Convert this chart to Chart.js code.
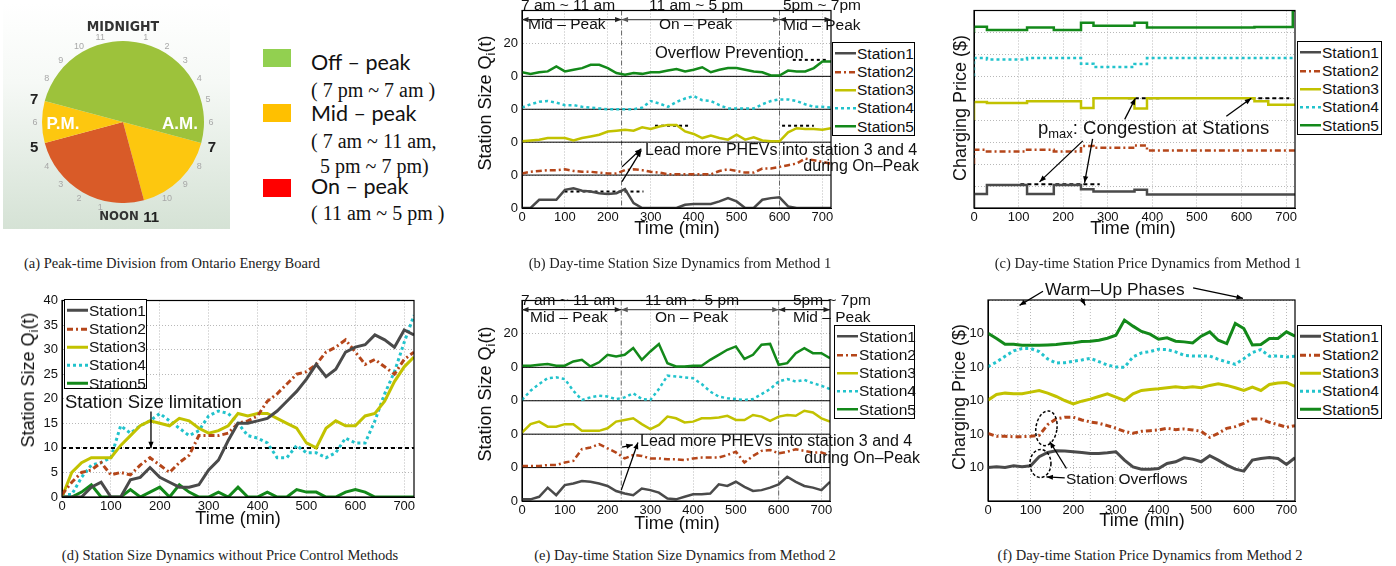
<!DOCTYPE html>
<html>
<head>
<meta charset="utf-8">
<title>PHEV charging station dynamics</title>
<script src="https://cdn.jsdelivr.net/npm/chart.js@4.4.1/dist/chart.umd.min.js"></script>
<style>
  body { margin: 0; background: #fff; }
  #fig { position: relative; width: 1396px; height: 566px; overflow: hidden; font-family: "Liberation Sans", Arial, sans-serif; color: #111; }
  #fig canvas { position: absolute; }
  .t { position: absolute; white-space: nowrap; line-height: 1; transform: translateY(-50%); }
  .c { position: absolute; white-space: nowrap; line-height: 1; transform: translate(-50%, -50%); }
  .yl { position: absolute; white-space: nowrap; line-height: 1; font-size: 18px; transform: translate(-50%, -50%) rotate(-90deg); }
  .xl { position: absolute; white-space: nowrap; line-height: 1; font-size: 18px; transform: translate(-50%, -50%); }
  .cap { position: absolute; white-space: nowrap; line-height: 1; transform: translate(-50%, -50%); font-family: "Liberation Serif", "Times New Roman", serif; font-size: 14.5px; color: #222; }
  .leg { position: absolute; border: 1.3px solid #000; background: #fff; box-sizing: border-box; }
  .leg .row { position: absolute; left: 2px; font-size: 15.5px; line-height: 1; white-space: nowrap; transform: translateY(-50%); display: flex; align-items: center; }
  .leg svg { margin-right: 1px; }
  sub { font-size: 70%; vertical-align: -0.35em; line-height: 0; }
  .sq { position: absolute; width: 28px; height: 18px; }
  .lgA { position: absolute; white-space: nowrap; line-height: 1; transform: translateY(-50%); font-family: Lato, "Noto Sans", sans-serif; font-size: 21.5px; }
  .lgS { position: absolute; white-space: nowrap; line-height: 1; transform: translateY(-50%); font-family: "Liberation Serif", serif; font-size: 20px; }
  .clk { position: absolute; white-space: nowrap; line-height: 1; transform: translate(-50%, -50%); }
</style>
</head>
<body>
<div id="fig">
  <!-- (a) peak-time clock -->
  <div style="position:absolute;left:3px;top:3px;width:227px;height:226px;background:linear-gradient(#ffffff 0%,#f6f9f6 35%,#d5e2d5 100%);"></div>
  <canvas id="cA" width="162" height="162" style="left:42px;top:41px"></canvas>
  <div id="clock"></div>
  <div class="c" style="left:123px;top:26px;font:bold 14px 'Liberation Sans Narrow','DejaVu Sans Condensed',sans-serif;color:#333">MIDNIGHT</div>
  <div class="c" style="left:119px;top:215px;font:bold 13px 'Liberation Sans Narrow','DejaVu Sans Condensed',sans-serif;color:#333">NOON</div>
  <div class="c" style="left:63px;top:124px;font:bold 17px 'Liberation Sans',sans-serif;color:#fff">P.M.</div>
  <div class="c" style="left:180px;top:124px;font:bold 17px 'Liberation Sans',sans-serif;color:#fff">A.M.</div>

  <div class="sq" style="left:263px;top:49px;background:#92d050"></div>
  <div class="sq" style="left:263px;top:104px;background:#ffc000"></div>
  <div class="sq" style="left:263px;top:179px;background:#ff0000"></div>
  <div class="lgA" style="left:311px;top:63px">Off – peak</div>
  <div class="lgS" style="left:311px;top:90px">( 7 pm ~ 7 am )</div>
  <div class="lgA" style="left:311px;top:114px">Mid – peak</div>
  <div class="lgS" style="left:311px;top:141px">( 7 am ~ 11 am,</div>
  <div class="lgS" style="left:320px;top:166px">5 pm ~ 7 pm)</div>
  <div class="lgA" style="left:311px;top:187px">On – peak</div>
  <div class="lgS" style="left:311px;top:213px">( 11 am ~ 5 pm )</div>

  <!-- chart canvases -->
  <canvas id="cB" width="360" height="230" style="left:480px;top:0px"></canvas>
  <canvas id="cC" width="375" height="230" style="left:930px;top:0px"></canvas>
  <canvas id="cD" width="404" height="230" style="left:20px;top:290px"></canvas>
  <canvas id="cE" width="360" height="235" style="left:480px;top:290px"></canvas>
  <canvas id="cF" width="365" height="245" style="left:940px;top:280px"></canvas>

  <!-- axis titles -->
  <div class="yl" style="left:485px;top:103px">Station Size Q<sub>i</sub>(t)</div>
  <div class="yl" style="left:960px;top:108px">Charging Price ($)</div>
  <div class="yl" style="left:28px;top:380px">Station Size Q<sub>i</sub>(t)</div>
  <div class="yl" style="left:485px;top:394px">Station Size Q<sub>i</sub>(t)</div>
  <div class="yl" style="left:959px;top:397px">Charging Price ($)</div>
  <div class="xl" style="left:677px;top:228px">Time (min)</div>
  <div class="xl" style="left:1133px;top:228px">Time (min)</div>
  <div class="xl" style="left:238px;top:518px">Time (min)</div>
  <div class="xl" style="left:677px;top:523px">Time (min)</div>
  <div class="xl" style="left:1142px;top:520px">Time (min)</div>

  <!-- annotations (b) -->
  <div class="t" style="left:521px;top:5px;font-size:15.5px">7 am ~ 11 am</div>
  <div class="t" style="left:528px;top:24px;font-size:15.5px">Mid – Peak</div>
  <div class="t" style="left:649px;top:5px;font-size:15.5px">11 am ~ 5 pm</div>
  <div class="t" style="left:659px;top:24px;font-size:15.5px">On – Peak</div>
  <div class="t" style="left:783px;top:5px;font-size:15.5px">5pm ~ 7pm</div>
  <div class="t" style="left:783px;top:25px;font-size:15.5px">Mid – Peak</div>
  <div class="t" style="left:655px;top:52px;font-size:16.5px">Overflow Prevention</div>
  <div class="t" style="left:645px;top:150px;font-size:16px">Lead more PHEVs into station 3 and 4</div>
  <div class="t" style="right:477px;top:166px;font-size:16px">during On–Peak</div>
  <!-- annotations (c) -->
  <div class="t" style="left:1038px;top:128px;font-size:18.5px">p<sub>max</sub>: Congestion at Stations</div>
  <!-- annotations (d) -->
  <div class="t" style="left:65px;top:402px;font-size:18.5px">Station Size limitation</div>
  <!-- annotations (e) -->
  <div class="t" style="left:521px;top:300px;font-size:15.5px">7 am ~ 11 am</div>
  <div class="t" style="left:530px;top:317px;font-size:15.5px">Mid – Peak</div>
  <div class="t" style="left:645px;top:300px;font-size:15.5px">11 am ~ 5 pm</div>
  <div class="t" style="left:655px;top:317px;font-size:15.5px">On – Peak</div>
  <div class="t" style="left:793px;top:300px;font-size:15.5px">5pm ~ 7pm</div>
  <div class="t" style="left:793px;top:317px;font-size:15.5px">Mid – Peak</div>
  <div class="t" style="left:640px;top:441px;font-size:16px">Lead more PHEVs into station 3 and 4</div>
  <div class="t" style="right:476px;top:458px;font-size:16px">during On–Peak</div>
  <!-- annotations (f) -->
  <div class="t" style="left:1045px;top:290px;font-size:17.3px">Warm–Up Phases</div>
  <div class="t" style="left:1066px;top:479px;font-size:15.5px">Station Overflows</div>

  <!-- captions -->
  <div class="cap" style="left:172px;top:263px">(a) Peak-time Division from Ontario Energy Board</div>
  <div class="cap" style="left:680px;top:263px">(b) Day-time Station Size Dynamics from Method 1</div>
  <div class="cap" style="left:1148px;top:263px">(c) Day-time Station Price Dynamics from Method 1</div>
  <div class="cap" style="left:230px;top:555px">(d) Station Size Dynamics without Price Control Methods</div>
  <div class="cap" style="left:685px;top:555px">(e) Day-time Station Size Dynamics from Method 2</div>
  <div class="cap" style="left:1150px;top:555px">(f) Day-time Station Price Dynamics from Method 2</div>
</div>

<script>
// ---- data ----
// (a) peak periods, clockwise from 7 am, in hours
const peakNames = ['Mid-peak (7-11 am)', 'On-peak', 'Mid-peak (5-7 pm)', 'Off-peak'];
const peakHours = [4, 6, 2, 12];

// time axis, minutes after 7 am
const minutes = [0,20,40,60,80,100,120,140,160,180,200,220,240,260,280,300,320,340,360,
                 380,400,420,440,460,480,500,520,540,560,580,600,620,640,660,680,700,720];

const stationNames = ['Station1', 'Station2', 'Station3', 'Station4', 'Station5'];

// (b) station size, method 1 (each station drawn in its own 20-unit band)
const sizeM1_s1 = [0,0,5,5,5,11,12,10.5,10,9, 8.5,9,11.5,3,0,0,0,0,0,2, 2.5,2.5,2.5,4,6,4,0,0,5,6, 6.5,1,0,0,0,0,0];
const sizeM1_s2 = [1,2,2.5,3,3,3.5,2.5,2,2,1.5, 1,1,3,3.5,3,2,1.5,0.5,0.5,0.5, 0.5,0.5,0.5,2.5,3.5,2.5,1.5,1.5,4,4, 5,6,7,10,9,8,7];
const sizeM1_s3 = [0.5,1,1.5,2.5,2.5,2.5,1,2.5,3.5,4.5, 6.5,7,7.5,7,9,8,9.5,10.5,10.5,6.5, 5,2.5,4,2.5,1.5,4.5,1.5,3,1,0.5, 0.5,6,8.5,8,8,7.5,8.5];
const sizeM1_s4 = [1,3,4.5,5,4,2.5,2.5,1.5,1,0.5, 0,0,0,0,1,5,3.5,1.5,4.5,6.5, 8,5.5,5,2.5,0.5,0.5,0.5,0.5,3,5, 6,6,5,3,1.5,1.5,1];
const sizeM1_s5 = [2.5,1.5,2.5,3,6,3,4,5,7,7, 5,2,1,2,1.5,2.5,2.5,3.5,4.5,3, 4,5.5,2.5,4,5,5,4,3,2.5,0.5, 0.5,3.5,3,3,5,9,9];
const bandOffsets = [0, 20, 40, 60, 80];
const sizeTickLabels = ['0', '0', '0', '0', '0', '20', ''];
const stationLimit = 10;
const limitB_start = [99, 310, 606, 631];
const limitB_end = [283, 388, 680, 714];
const limitB_station = [0, 2, 2, 4];

// (c) charging price, method 1 (piecewise constant)
const priceM1_times = [0, 29, 119, 179, 240, 268, 360, 388, 629, 660, 715, 720];
const priceM1_s1 = [0, 0.64, 1.05, 0.64, 1.05, 0.85, 0.75, 0.83, 0.62, 0.62, 0.62, 0.62];
const priceM1_s2 = [2.0, 2.66, 2.57, 2.66, 2.57, 2.82, 2.74, 2.85, 2.62, 2.62, 2.62, 2.62];
const priceM1_s3 = [4.0, 4.83, 4.79, 4.86, 4.86, 4.56, 5.0, 4.53, 5.0, 4.86, 4.7, 4.7];
const priceM1_s4 = [6.0, 6.83, 6.77, 6.83, 6.83, 6.57, 6.43, 6.56, 6.83, 6.83, 6.83, 6.83];
const priceM1_s5 = [8.0, 8.26, 8.11, 8.23, 8.11, 8.44, 8.3, 8.44, 8.22, 8.25, 8.25, 9.0];
const pmaxC_start = [104, 345, 622];
const pmaxC_end = [282, 416, 707];
const pmaxC_level = [1.08, 5.0, 5.0];

// (d) station size, no price control
const sizeNo_s1 = [0,0,0,2,3,0,0,3.5,4,6, 4,3,2,2,2.5,5.5,7.5,11.5,15,15, 15.5,16,17.5,19.5,21.5,24,27,24.5,26,29.5, 30.5,31,33,32,30.5,34,33];
const sizeNo_s2 = [0.5,3,5,5.5,7,4.5,5,4.5,6.5,8, 6.5,5,7,8.5,12.5,12.5,12.5,13,15,15.5, 16.5,19.5,21,23,25,25.5,27,29.5,30.5,32, 29.5,27,28,26.5,25,28,29.5];
const sizeNo_s3 = [0,5,7,8,8,8,10.5,12.5,14.5,15.5, 15,14.5,16,15.5,14,13,13.5,14.5,17,16.5, 17,17,16,15,14,11,10,14,15.5,14.5, 14.5,16.5,17,19.5,23.5,26.5,28.5];
const sizeNo_s4 = [0.5,0.5,4,6.5,7,8,14.5,13,14.5,15.5, 17,15.5,14,12.5,13.5,16.5,17.5,17,15,12.5, 12,11,8,8,10.5,9,9,8,9,12, 11,11,15.5,21,25.5,31.5,37];
const sizeNo_s5 = [0,0,1,2.5,0,0,0,1.5,0,1, 2,0,2.5,1,0,0,1,0,2,0, 0,1,0,0,1.5,1,1,0,0,1, 1.5,1,0,0,0,0,0];

// (e) station size, method 2
const sizeM2_s1 = [1,1,2.5,8,3.5,9.5,10.5,12,11.5,10.5, 9,6,4.5,3.5,7.5,6.5,5,1.5,1,2.5, 4,4,4.5,10,9,11.5,8.5,6,6.5,8, 10,14.5,11.5,9,8,6.5,11.5];
const sizeM2_s2 = [1,1,1,1.5,1.5,3,4,11,12,14, 11.5,9,5.5,7.5,7,5.5,5.5,5,5,4.5, 5.5,6,6,6,7.5,9.5,3,7,10,10.5, 8.5,9.5,11,10,9,9,7.5];
const sizeM2_s3 = [1,6,7.5,4.5,4.5,6,6,2,2,2, 3.5,7.5,8.5,9.5,6,3,5.5,10.5,9.5,7, 7.5,9.5,9.5,10,11,8.5,8.5,11.5,10.5,8, 10.5,11.5,11,14,13,9.5,7.5];
const sizeM2_s4 = [0.5,6,10,13.5,14,13,6,0.5,2,3, 2.5,1,2,4.5,1,0.5,7,15,14.5,14, 13.5,10,5.5,2.5,1.5,1,0.5,1,4,7, 11.5,13,11.5,12.5,10.5,9,7];
const sizeM2_s5 = [1,1,1.5,2,1,1,3.5,4.5,0.5,3, 7.5,6.5,7.5,11.5,4.5,9.5,14,2.5,0.5,0.5, 1,1,4.5,7.5,10.5,12.5,5,7.5,13.5,14, 1.5,2.5,8.5,11.5,8.5,8.5,5.5];

// (f) charging price, method 2
const priceM2_s1 = [1.0,1.02,1.0,1.05,1.02,1.05,1.32,1.45,1.5,1.49, 1.47,1.45,1.42,1.42,1.44,1.47,1.22,1.02,0.95,0.95, 0.97,1.12,1.17,1.29,1.25,1.17,1.35,1.22,1.07,0.95, 0.89,1.22,1.27,1.3,1.27,1.09,1.29];
const priceM2_s2 = [2.02,1.93,1.93,1.92,1.92,1.93,1.96,2.28,2.45,2.5, 2.5,2.42,2.36,2.32,2.25,2.17,2.08,2.02,2.08,2.1, 2.12,2.17,2.13,2.15,2.12,2.08,1.9,2.02,2.17,2.22, 2.32,2.45,2.45,2.35,2.28,2.2,2.25];
const priceM2_s3 = [3.01,3.18,3.22,3.2,3.2,3.25,3.3,3.22,3.12,3.0, 2.9,2.98,3.04,3.12,3.2,3.1,3.0,3.2,3.3,3.33, 3.35,3.38,3.41,3.38,3.41,3.38,3.45,3.5,3.45,3.38, 3.3,3.4,3.3,3.48,3.52,3.54,3.42];
const priceM2_s4 = [4.01,4.15,4.32,4.48,4.55,4.55,4.46,4.24,4.12,4.13, 4.17,4.21,4.26,4.16,4.06,4.0,3.99,4.3,4.42,4.46, 4.53,4.52,4.45,4.35,4.33,4.33,4.33,4.23,4.15,4.08, 4.25,4.43,4.52,4.32,4.33,4.3,4.32];
const priceM2_s5 = [5.01,4.85,4.68,4.68,4.65,4.65,4.65,4.66,4.67,4.7, 4.72,4.76,4.77,4.8,4.86,4.95,5.4,5.22,5.06,4.98, 4.83,4.87,4.77,4.75,4.72,4.92,5.05,4.8,4.7,5.3, 5.15,4.66,4.67,4.85,4.85,5.05,4.92];
const priceTickLabels = ['', '10', '10', '10', '10', '10', ''];

// ---- styles ----
const stationColors = ['#4a4a4a', '#b5461a', '#c2c200', '#22c3cc', '#13891a'];
const stationDash = [[], [6, 3, 2, 3], [], [3, 3], []];
const peakColors = ['#fdc70f', '#d95b28', '#fdc70f', '#9dc23b'];
const tickFont = { family: 'Liberation Sans, Arial, sans-serif', size: 13, lineHeight: 1 };

Chart.defaults.font.family = 'Liberation Sans, Arial, sans-serif';

// (a) the pie clock
new Chart(document.getElementById('cA'), {
  type: 'pie',
  data: { labels: peakNames, datasets: [{ data: peakHours, backgroundColor: peakColors, borderWidth: 0 }] },
  options: {
    responsive: false, animation: false, events: [],
    rotation: 105,
    plugins: { legend: { display: false }, tooltip: { enabled: false } }
  }
});

// clock numbers round the pie
(function () {
  const box = document.getElementById('clock');
  const cx = 123, cy = 122;
  const small = [1, 2, 3, 4, 5, 6, 8, 9, 10, 13, 14, 15, 16, 18, 20, 21, 22, 23];
  const bold = [7, 11, 17, 19];
  let html = '';
  small.forEach(h => {
    const a = h * 15 * Math.PI / 180;
    html += `<div class="clk" style="left:${cx + 88 * Math.sin(a)}px;top:${cy - 88 * Math.cos(a)}px;font-size:9px;color:#a8a8a8">${h % 12}</div>`;
  });
  bold.forEach(h => {
    const a = h * 15 * Math.PI / 180;
    const r = h === 11 ? 97 : 92;
    html += `<div class="clk" style="left:${cx + r * Math.sin(a) + (h === 11 ? 3 : 0)}px;top:${cy - r * Math.cos(a)}px;font:bold 15px 'Liberation Sans',sans-serif;color:#222">${h % 12}</div>`;
  });
  box.innerHTML = html;
})();

// ---- helpers ----
function arrow(ctx, x1, y1, x2, y2, both) {
  const head = 7;
  ctx.beginPath(); ctx.moveTo(x1, y1); ctx.lineTo(x2, y2); ctx.stroke();
  const tip = (xa, ya, xb, yb) => {
    const ang = Math.atan2(yb - ya, xb - xa);
    ctx.beginPath();
    ctx.moveTo(xb, yb);
    ctx.lineTo(xb - head * Math.cos(ang - 0.38), yb - head * Math.sin(ang - 0.38));
    ctx.lineTo(xb - head * Math.cos(ang + 0.38), yb - head * Math.sin(ang + 0.38));
    ctx.closePath(); ctx.fill();
  };
  tip(x1, y1, x2, y2);
  if (both) tip(x2, y2, x1, y1);
}

function framePlugin(extra) {
  return {
    id: 'frame',
    beforeDatasetsDraw(chart) {
      const { ctx, chartArea: a, scales: { x, y } } = chart;
      ctx.save();
      (extra.vlines || []).forEach(v => {
        const px = x.getPixelForValue(v.x);
        ctx.strokeStyle = v.color; ctx.lineWidth = 1; ctx.setLineDash(v.dash);
        ctx.beginPath(); ctx.moveTo(px, a.top); ctx.lineTo(px, a.bottom); ctx.stroke();
      });
      ctx.setLineDash([]);
      (extra.zeroLines || []).forEach(v => {
        const py = y.getPixelForValue(v);
        ctx.strokeStyle = '#000'; ctx.lineWidth = 1;
        ctx.beginPath(); ctx.moveTo(a.left, py); ctx.lineTo(a.right, py); ctx.stroke();
      });
      ctx.restore();
    },
    afterDraw(chart) {
      const { ctx, chartArea: a, scales: { x, y } } = chart;
      ctx.save();
      ctx.strokeStyle = '#000'; ctx.lineWidth = 1.2; ctx.setLineDash([]);
      ctx.strokeRect(a.left, a.top, a.right - a.left, a.bottom - a.top);
      (extra.arrows || []).forEach(r => {
        ctx.strokeStyle = r.color || '#000'; ctx.fillStyle = r.color || '#000'; ctx.lineWidth = 1.3;
        arrow(ctx, x.getPixelForValue(r.x1), y.getPixelForValue(r.y1), x.getPixelForValue(r.x2), y.getPixelForValue(r.y2), r.both);
      });
      (extra.ellipses || []).forEach(e => {
        ctx.strokeStyle = '#000'; ctx.lineWidth = 1.5; ctx.setLineDash([3, 2]);
        ctx.beginPath();
        ctx.ellipse(x.getPixelForValue(e.x), y.getPixelForValue(e.y), e.rx, e.ry, e.rot || 0, 0, 2 * Math.PI);
        ctx.stroke();
      });
      ctx.restore();
    }
  };
}

function xAxis() {
  return {
    type: 'linear', min: 0, max: 720,
    ticks: { stepSize: 100, includeBounds: false, autoSkip: false, maxRotation: 0, font: tickFont, color: '#111', padding: 3 },
    grid: { color: '#b8b8b8', lineWidth: 1, drawTicks: false },
    border: { dash: [1, 2], color: '#000' },
    afterFit(s) { s.height = 22; }
  };
}

function yAxis(min, max, step, labels, width) {
  return {
    type: 'linear', min: min, max: max,
    ticks: {
      stepSize: step, includeBounds: false, autoSkip: false, font: tickFont, color: '#111', padding: 4,
      callback: (v, i) => labels ? (labels[i] !== undefined ? labels[i] : '') : v
    },
    grid: { color: '#b8b8b8', lineWidth: 1, drawTicks: false },
    border: { dash: [1, 2], color: '#000' },
    afterFit(s) { s.width = width; }
  };
}

function stationSets(series, xs, offsets, width, stepped) {
  return series.map((vals, i) => ({
    label: stationNames[i],
    data: vals.map((v, k) => ({ x: xs[k], y: v + (offsets ? offsets[i] : 0) })),
    borderColor: stationColors[i], borderWidth: width, borderDash: stationDash[i],
    pointRadius: 0, tension: 0, fill: false, stepped: stepped || false
  }));
}

function segmentSet(x0, x1, level, dash) {
  return {
    data: [{ x: x0, y: level }, { x: x1, y: level }],
    borderColor: '#000', borderWidth: 2, borderDash: dash, pointRadius: 0, fill: false
  };
}

function lineChart(id, datasets, yCfg, pad, extra) {
  return new Chart(document.getElementById(id), {
    type: 'line',
    data: { datasets: datasets },
    options: {
      responsive: false, animation: false, events: [],
      layout: { padding: pad },
      plugins: { legend: { display: false }, tooltip: { enabled: false } },
      scales: { x: xAxis(), y: yCfg }
    },
    plugins: [framePlugin(extra)]
  });
}

function legend(left, top, w, h, lineW) {
  const fig = document.getElementById('fig');
  const div = document.createElement('div');
  div.className = 'leg';
  div.style.cssText = `left:${left}px;top:${top}px;width:${w}px;height:${h}px`;
  let html = '';
  stationNames.forEach((name, i) => {
    const dash = stationDash[i].length ? `stroke-dasharray="${stationDash[i].join(' ')}"` : '';
    html += `<div class="row" style="top:${10.5 + i * 18.3}px"><svg width="21" height="6"><line x1="0" y1="3" x2="21" y2="3" stroke="${stationColors[i]}" stroke-width="${lineW}" ${dash}/></svg>${name}</div>`;
  });
  div.innerHTML = html;
  fig.appendChild(div);
}

const peakLines = [
  { x: 232, color: '#666', dash: [5, 2, 1, 2] },
  { x: 600, color: '#666', dash: [5, 2, 1, 2] }
];
const peakArrows = [
  { x1: 0, y1: 114.5, x2: 232, y2: 114.5, both: true, color: '#222' },
  { x1: 232, y1: 114.5, x2: 600, y2: 114.5, both: true, color: '#555' },
  { x1: 600, y1: 114.5, x2: 720, y2: 114.5, both: true, color: '#222' }
];

// ---- (b) ----
const setsB = stationSets([sizeM1_s1, sizeM1_s2, sizeM1_s3, sizeM1_s4, sizeM1_s5], minutes, bandOffsets, 2.5);
limitB_start.forEach((s, k) => setsB.push(segmentSet(s, limitB_end[k], stationLimit + bandOffsets[limitB_station[k]], [3, 3])));
lineChart('cB', setsB, yAxis(0, 120, 20, sizeTickLabels, 42),
  { left: 0, top: 8, right: 9, bottom: 0 },
  {
    vlines: peakLines, zeroLines: [20, 40, 60, 80],
    arrows: peakArrows.concat([
      { x1: 233, y1: 25, x2: 278, y2: 36 },
      { x1: 233, y1: 16, x2: 278, y2: 35 }
    ])
  });
legend(832, 42, 83, 94, 2.5);

// ---- (c) ----
const setsC = stationSets([priceM1_s1, priceM1_s2, priceM1_s3, priceM1_s4, priceM1_s5], priceM1_times, null, 2.5, 'after');
pmaxC_start.forEach((s, k) => setsC.push(segmentSet(s, pmaxC_end[k], pmaxC_level[k], [4, 3])));
lineChart('cC', setsC, yAxis(0, 9, 1, [], 44),
  { left: 0, top: 8, right: 10, bottom: 0 },
  {
    vlines: [{ x: 240, color: '#bbb', dash: [1, 2] }],
    arrows: [
      { x1: 244, y1: 3.06, x2: 147, y2: 1.19 },
      { x1: 266, y1: 3.15, x2: 248, y2: 1.15 },
      { x1: 338, y1: 4.04, x2: 362, y2: 5.0 },
      { x1: 566, y1: 4.18, x2: 622, y2: 5.0 }
    ]
  });
legend(1297, 41, 85, 94, 2.5);

// ---- (d) ----
const setsD = stationSets([sizeNo_s1, sizeNo_s2, sizeNo_s3, sizeNo_s4, sizeNo_s5], minutes, null, 3);
setsD.push(segmentSet(0, 720, stationLimit, [4, 3]));
lineChart('cD', setsD, yAxis(0, 40, 5, null, 42),
  { left: 0, top: 9, right: 10, bottom: 1 },
  { arrows: [{ x1: 182, y1: 17.4, x2: 182, y2: 9.9 }] });
legend(64, 299, 83, 90, 3);

// ---- (e) ----
const setsE = stationSets([sizeM2_s1, sizeM2_s2, sizeM2_s3, sizeM2_s4, sizeM2_s5], minutes, bandOffsets, 2.5);
lineChart('cE', setsE, yAxis(0, 120, 20, sizeTickLabels, 42),
  { left: 0, top: 8, right: 10, bottom: 2 },
  {
    vlines: peakLines, zeroLines: [20, 40, 60, 80],
    arrows: peakArrows.concat([
      { x1: 232, y1: 6.5, x2: 271, y2: 35 },
      { x1: 234, y1: 32.2, x2: 259, y2: 33.6 }
    ])
  });
legend(834, 325, 81, 94, 2.5);

// ---- (f) ----
const setsF = stationSets([priceM2_s1, priceM2_s2, priceM2_s3, priceM2_s4, priceM2_s5], minutes, null, 3);
lineChart('cF', setsF, yAxis(0, 6, 1, priceTickLabels, 48),
  { left: 0, top: 20, right: 10, bottom: 2 },
  {
    vlines: [70, 240, 670].map(v => ({ x: v, color: '#bbb', dash: [1, 2] })),
    arrows: [
      { x1: 129, y1: 6.26, x2: 74, y2: 5.84 },
      { x1: 219, y1: 6.06, x2: 228, y2: 5.84 },
      { x1: 481, y1: 6.36, x2: 598, y2: 6.05 },
      { x1: 184, y1: 0.97, x2: 145, y2: 1.77 },
      { x1: 180, y1: 0.69, x2: 137, y2: 0.72 }
    ],
    ellipses: [
      { x: 137, y: 2.17, rx: 10.5, ry: 17.5, rot: 0.15 },
      { x: 123, y: 1.12, rx: 10.5, ry: 14, rot: 0 }
    ]
  });
legend(1297, 325, 85, 94, 3);
</script>
</body>
</html>
